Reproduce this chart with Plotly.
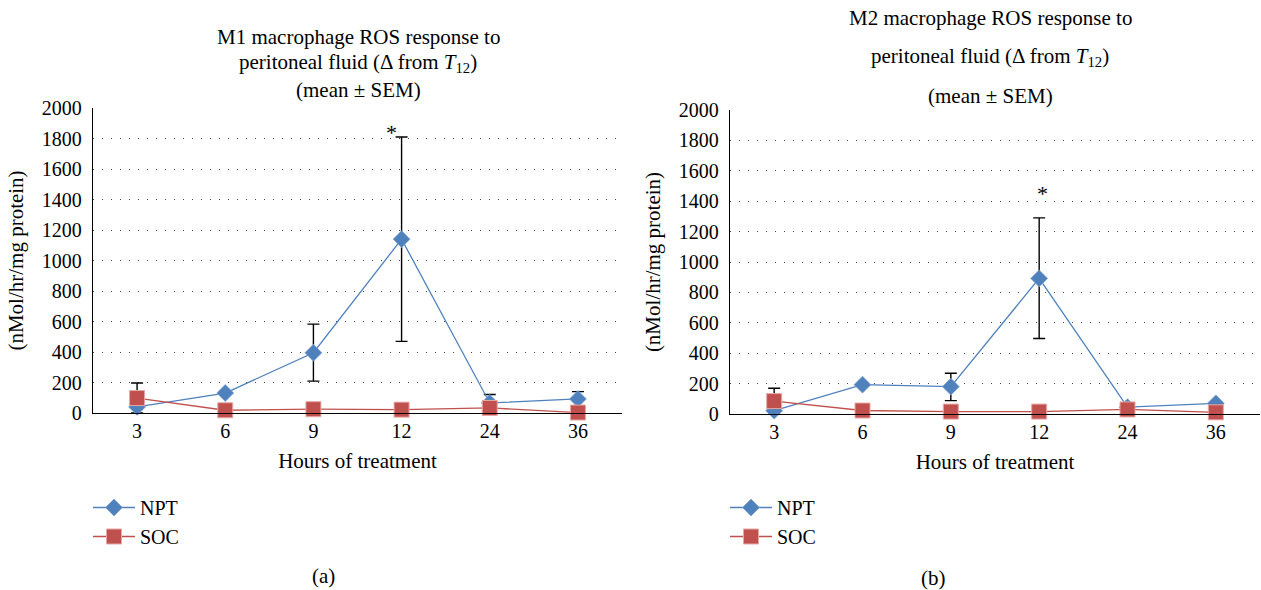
import plotly.graph_objects as go

hours = ["3", "6", "9", "12", "24", "36"]

m1_npt = [40, 131, 395, 1140, 66, 92]
m1_npt_err_plus = [157, 0, 188, 670, 55, 48]
m1_npt_err_minus = [40, 0, 186, 670, 55, 0]
m1_soc = [98, 18, 25, 22, 33, 3]

m2_npt = [22, 193, 180, 892, 45, 70]
m2_npt_err_plus = [147, 0, 88, 398, 0, 0]
m2_npt_err_minus = [22, 0, 92, 395, 0, 0]
m2_soc = [85, 23, 16, 16, 30, 11]

yticks = list(range(0, 2001, 200))

BLUE = "#4F81BD"
RED = "#C0504D"
FONT = "Liberation Serif"

fig = go.Figure()


def add_panel(npt, ep, em, soc, xa, ya, legend):
    fig.add_trace(go.Scatter(
        x=hours, y=npt, name="NPT", mode="lines+markers",
        xaxis=xa, yaxis=ya, legend=legend, cliponaxis=False,
        line=dict(color=BLUE, width=1.3),
        marker=dict(symbol="diamond", size=13, color=BLUE,
                    line=dict(color="#7FA3D0", width=0.8)),
        error_y=dict(type="data", array=ep, arrayminus=em, symmetric=False,
                     color="black", thickness=1.4, width=6),
    ))
    fig.add_trace(go.Scatter(
        x=hours, y=soc, name="SOC", mode="lines+markers",
        xaxis=xa, yaxis=ya, legend=legend, cliponaxis=False,
        line=dict(color=RED, width=1.3),
        marker=dict(symbol="square", size=15, color=RED,
                    line=dict(color="#E8A7A5", width=1)),
    ))


add_panel(m1_npt, m1_npt_err_plus, m1_npt_err_minus, m1_soc, "x", "y", "legend")
add_panel(m2_npt, m2_npt_err_plus, m2_npt_err_minus, m2_soc, "x2", "y2", "legend2")

W, H = 1261, 590

axis_common = dict(
    showline=True, linecolor="black", linewidth=1.3, automargin=False,
    tickfont=dict(family=FONT, size=20, color="black"),
)

ycommon = dict(
    axis_common,
    range=[0, 2000], tickvals=yticks, showgrid=True,
    gridcolor="#444", gridwidth=1, griddash="1px,8px", zeroline=False,
    ticks="outside", ticklen=6, tickcolor="rgba(0,0,0,0)",
    title=dict(text="(nMol/hr/mg protein)", font=dict(family=FONT, size=21, color="black"), standoff=12),
)
xcommon = dict(
    axis_common,
    type="category", range=[-0.5, 5.5], showgrid=False,
    ticks="", 
    title=dict(text="Hours of treatment", font=dict(family=FONT, size=21, color="black"), standoff=12),
)

legend_font = dict(family=FONT, size=20, color="black")
fig.update_layout(
    width=W, height=H,
    margin=dict(l=0, r=0, t=0, b=0),
    paper_bgcolor="white", plot_bgcolor="white",
    xaxis=dict(xcommon, domain=[93 / W, 622 / W], anchor="y"),
    yaxis=dict(ycommon, domain=[1 - 413 / H, 1 - 108 / H], anchor="x"),
    xaxis2=dict(xcommon, domain=[730 / W, 1260 / W], anchor="y2"),
    yaxis2=dict(ycommon, domain=[1 - 414 / H, 1 - 110 / H], anchor="x2"),
    legend=dict(x=88 / W, y=1 - 488 / H, xanchor="left", yanchor="top",
                font=legend_font, itemwidth=42,
                bgcolor="rgba(0,0,0,0)", tracegroupgap=0),
    legend2=dict(x=725 / W, y=1 - 488 / H, xanchor="left", yanchor="top",
                 font=legend_font, itemwidth=42,
                 bgcolor="rgba(0,0,0,0)", tracegroupgap=0),
    showlegend=True,
)

tfont = dict(family=FONT, size=21, color="black")
left_title = ["M1 macrophage ROS response to",
              "peritoneal fluid (Δ from <i>T</i><sub>12</sub>)",
              "(mean ± SEM)"]
right_title = ["M2 macrophage ROS response to",
               "peritoneal fluid (Δ from <i>T</i><sub>12</sub>)",
               "(mean ± SEM)"]
for txt, yy in zip(left_title, [37, 63, 90]):
    fig.add_annotation(text=txt, x=358 / W, y=1 - yy / H, xref="paper", yref="paper",
                       showarrow=False, font=tfont, xanchor="center", yanchor="middle")
for txt, yy in zip(right_title, [18, 57, 96]):
    fig.add_annotation(text=txt, x=990 / W, y=1 - yy / H, xref="paper", yref="paper",
                       showarrow=False, font=tfont, xanchor="center", yanchor="middle")

# significance asterisks above the 12 h error bars (category index 3)
idx12 = hours.index("12")
fig.add_annotation(text="*", x=idx12, y=m1_npt[idx12] + m1_npt_err_plus[idx12], xref="x", yref="y",
                   showarrow=False, font=dict(family=FONT, size=22, color="black"),
                   yanchor="bottom", xshift=-10, yshift=-10)
fig.add_annotation(text="*", x=idx12, y=m2_npt[idx12] + m2_npt_err_plus[idx12], xref="x2", yref="y2",
                   showarrow=False, font=dict(family=FONT, size=22, color="black"),
                   yanchor="bottom", xshift=3, yshift=10)

fig.add_annotation(text="(a)", x=310 / W, y=1 - 576 / H, xref="paper", yref="paper",
                   showarrow=False, font=tfont, yanchor="middle")
fig.add_annotation(text="(b)", x=948 / W, y=1 - 578 / H, xref="paper", yref="paper",
                   showarrow=False, font=tfont, yanchor="middle")

fig.write_html("out.html")
